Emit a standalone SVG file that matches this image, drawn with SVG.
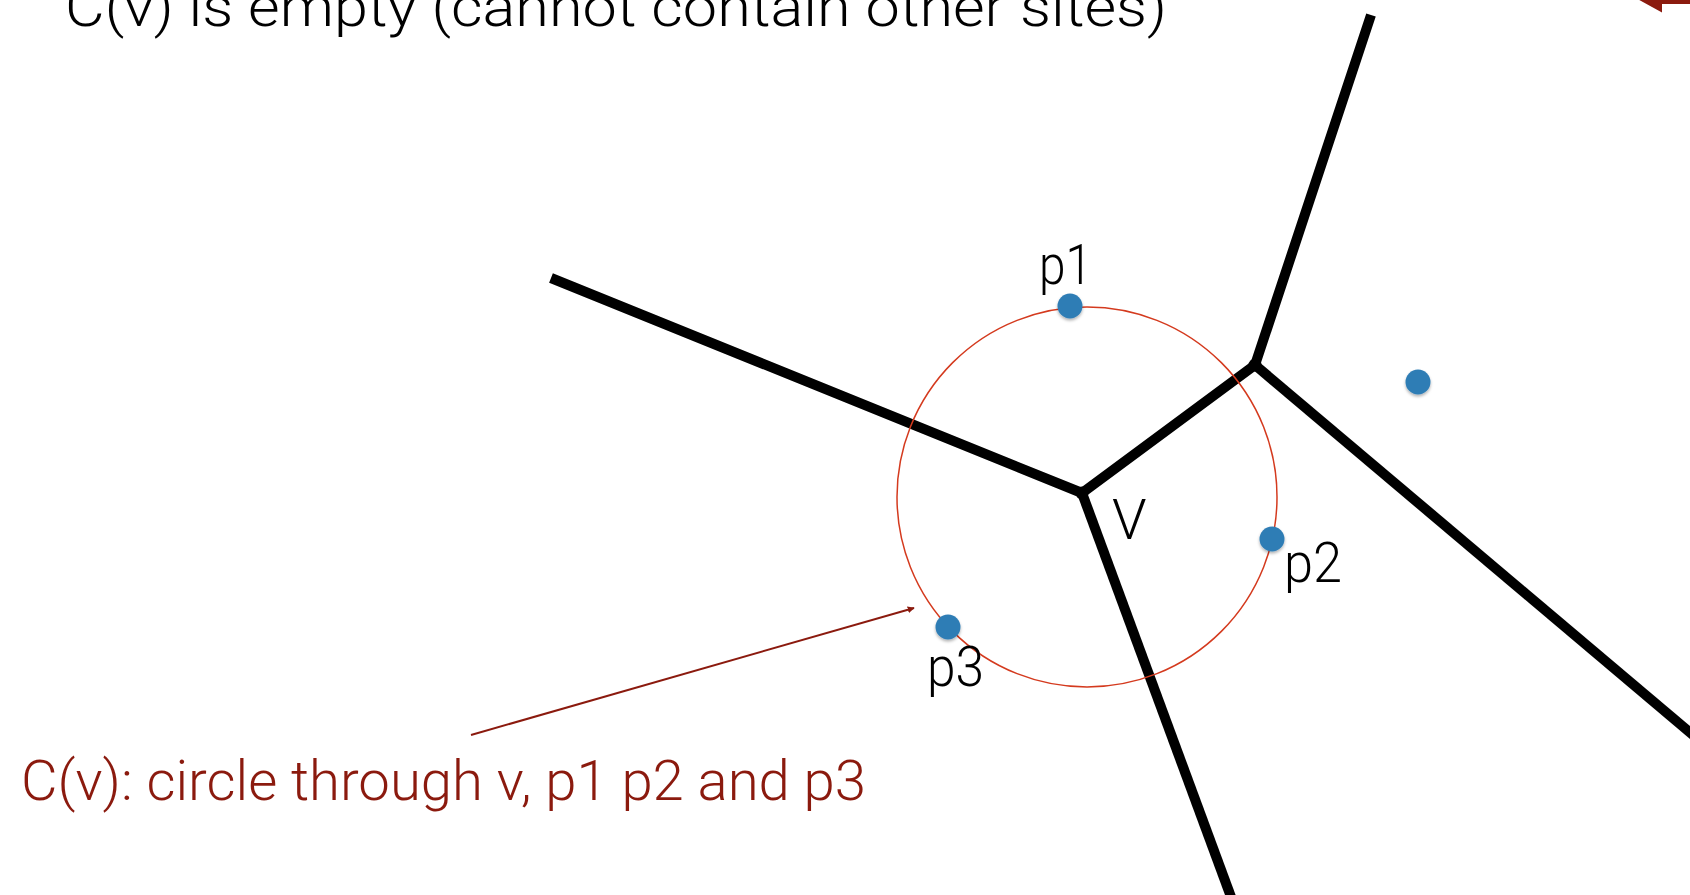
<svg xmlns="http://www.w3.org/2000/svg" width="1690" height="895" viewBox="0 0 1690 895">
<style>
.edge{stroke:#000;stroke-width:10;fill:none;stroke-linecap:butt;stroke-linejoin:round}
.site{fill:#2f7db5;filter:url(#sh)}
.lbl{font-family:Roboto,"Liberation Sans",sans-serif;font-weight:300;font-size:56px;fill:#000}
.red{fill:#8b1a0e}
</style>
<defs>
<filter id="sh" x="-50%" y="-50%" width="200%" height="200%">
<feDropShadow dx="0" dy="2" stdDeviation="1.5" flood-color="#000" flood-opacity="0.3"/>
</filter>
<marker id="ah" viewBox="0 0 10 10" refX="9" refY="5" markerWidth="7" markerHeight="7" orient="auto" markerUnits="userSpaceOnUse">
<path d="M0,0 L10,5 L0,10 Z" fill="#8b1a0e"/>
</marker>
</defs>
<rect width="1690" height="895" fill="#fff"/>
<text class="lbl" x="65" y="26" textLength="1102" lengthAdjust="spacingAndGlyphs">C(v) is empty (cannot contain other sites)</text>
<polygon points="1632,-4 1662,12.5 1662,4 1690,4 1690,-10 1632,-10" class="red"/>
<g id="voronoi-edges">
<polyline class="edge" points="551,278 1082,493 1255,365 1371,15"/>
<line class="edge" x1="1082" y1="493" x2="1234" y2="905"/>
<line class="edge" x1="1255" y1="365" x2="1700" y2="741"/>
<circle cx="1082" cy="493" r="6.5"/>
<circle cx="1255" cy="365" r="6.5"/>
</g>
<g id="circle-cv">
<circle cx="1087" cy="497" r="190" fill="none" stroke="#d43a1e" stroke-width="1.5"/>
</g>
<g id="p1"><circle class="site" cx="1070" cy="306" r="12.5"/><text class="lbl" x="1039" y="284" textLength="53" lengthAdjust="spacingAndGlyphs">p1</text></g>
<g id="p2"><circle class="site" cx="1272" cy="539" r="12.5"/><text class="lbl" x="1284" y="582" textLength="58" lengthAdjust="spacingAndGlyphs">p2</text></g>
<g id="p3"><circle class="site" cx="948" cy="627" r="12.5"/><text class="lbl" x="927" y="686" textLength="57" lengthAdjust="spacingAndGlyphs">p3</text></g>
<g id="site4"><circle class="site" cx="1418" cy="382" r="12.5"/></g>
<g id="v"><text class="lbl" x="1112" y="539">V</text></g>
<g id="connectors">
<line x1="471" y1="735" x2="914" y2="608" stroke="#8b1a0e" stroke-width="2" marker-end="url(#ah)"/>
</g>
<g id="caption"><text class="lbl" x="21" y="800" textLength="845" lengthAdjust="spacingAndGlyphs" style="fill:#8b1a0e">C(v): circle through v, p1 p2 and p3</text></g>
</svg>
